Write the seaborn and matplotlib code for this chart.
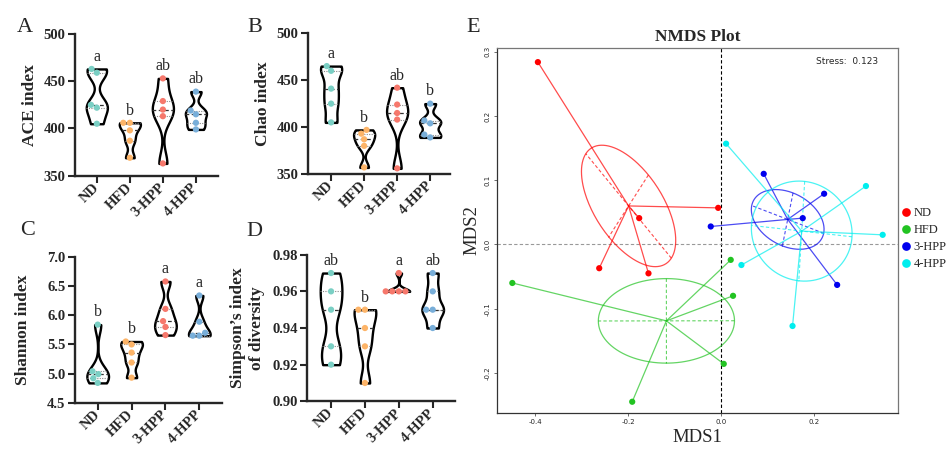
import numpy as np
import pandas as pd
import matplotlib
matplotlib.use("Agg")
import matplotlib.pyplot as plt
from matplotlib.ticker import FormatStrFormatter
import seaborn as sns

# groups and colours
groups = ["ND", "HFD", "3-HPP", "4-HPP"]
violin_colors = ["#7acfc4", "#fdb468", "#f6786c", "#78aed9"]
nmds_colors = ["#ff0000", "#22c322", "#0000ee", "#00eeee"]

# alpha diversity values (5 mice per group)
ace = [[463, 459, 425, 422, 405],
       [406, 406, 398, 387, 369],
       [453, 429, 420, 413, 363],
       [439, 419, 415, 406, 399]]
chao = [[465, 460, 441, 425, 405],
        [397, 393, 387, 380, 357],
        [442, 424, 415, 408, 356],
        [425, 407, 404, 392, 389]]
shannon = [[5.84, 5.04, 4.99, 4.92, 4.84],
           [5.55, 5.50, 5.36, 5.19, 4.93],
           [6.58, 6.11, 5.90, 5.80, 5.66],
           [6.34, 5.89, 5.70, 5.65, 5.65]]
simpson = [[0.970, 0.960, 0.950, 0.930, 0.920],
           [0.950, 0.950, 0.940, 0.930, 0.910],
           [0.970, 0.960, 0.960, 0.960, 0.960],
           [0.970, 0.960, 0.950, 0.950, 0.940]]

ace_letters = ["a", "b", "ab", "ab"]
chao_letters = ["a", "b", "ab", "b"]
shannon_letters = ["b", "b", "a", "a"]
simpson_letters = ["ab", "b", "a", "ab"]

# NMDS coordinates
mds1_nd = [-0.394, -0.176, -0.006, -0.262, -0.156]
mds2_nd = [0.284, 0.041, 0.057, -0.037, -0.045]
mds1_hfd = [-0.449, -0.191, 0.021, 0.026, 0.006]
mds2_hfd = [-0.060, -0.245, -0.024, -0.080, -0.186]
mds1_3hpp = [0.092, 0.222, 0.176, -0.022, 0.250]
mds2_3hpp = [0.110, 0.079, 0.041, 0.028, -0.063]
mds1_4hpp = [0.011, 0.312, 0.348, 0.044, 0.154]
mds2_4hpp = [0.157, 0.091, 0.015, -0.032, -0.127]
stress = 0.123

sns.set_style("ticks")
plt.rcParams["font.family"] = ["Liberation Serif", "DejaVu Serif"]

fig = plt.figure(figsize=(9.53, 4.49), dpi=100)


def violin_panel(rect, values, letters, ylabel, ylim, yticks, xlim, fmt, label_x):
    ax = fig.add_axes(rect)
    df = pd.DataFrame({"group": np.repeat(groups, 5),
                       "value": np.concatenate(values)})
    sns.violinplot(data=df, x="group", y="value", order=groups, cut=0,
                   bw_adjust=0.5, inner="quart", color="white", linecolor="black",
                   linewidth=1.7, width=0.64, density_norm="width", ax=ax)
    # median dashed, quartiles dotted
    for k, ln in enumerate(ax.lines):
        if k % 3 == 1:
            ln.set_color("#333333")
            ln.set_linestyle((0, (3, 2)))
            ln.set_linewidth(0.9)
        else:
            ln.set_color("#888888")
            ln.set_linestyle((0, (1, 1.2)))
            ln.set_linewidth(0.8)
    sns.swarmplot(data=df, x="group", y="value", order=groups, hue="group",
                  hue_order=groups, palette=violin_colors, size=4.5,
                  legend=False, ax=ax, zorder=3)
    for i, let in enumerate(letters):
        ax.annotate(let, (i, max(values[i])), xytext=(0, 3),
                    textcoords="offset points", ha="center", va="bottom",
                    fontsize=11.5)
    ax.set_ylim(*ylim)
    ax.set_yticks(yticks)
    ax.yaxis.set_major_formatter(FormatStrFormatter(fmt))
    ax.set_xlim(*xlim)
    ax.set_xlabel("")
    ax.set_ylabel(ylabel, fontsize=12.5, fontweight="bold")
    ax.yaxis.set_label_coords(label_x, 0.5)
    sns.despine(ax=ax)
    for s in ["left", "bottom"]:
        ax.spines[s].set_linewidth(1.7)
    ax.tick_params(width=1.5, length=5, pad=2, labelsize=10.5)
    for t in ax.get_yticklabels():
        t.set_fontweight("bold")
    plt.setp(ax.get_xticklabels(), rotation=45, ha="right", va="center",
             rotation_mode="anchor", fontweight="bold")
    return ax


violin_panel([0.0787, 0.6087, 0.1501, 0.3156], ace, ace_letters, "ACE index",
             (350, 500), [350, 400, 450, 500], (-0.66, 3.67), "%d", -0.26)
violin_panel([0.3235, 0.6125, 0.1487, 0.3134], chao, chao_letters, "Chao index",
             (350, 500), [350, 400, 450, 500], (-0.69, 3.6), "%d", -0.26)
violin_panel([0.0787, 0.1031, 0.1539, 0.3245], shannon, shannon_letters,
             "Shannon index", (4.5, 7.0), np.arange(4.5, 7.01, 0.5),
             (-0.67, 3.66), "%.1f", -0.30)
violin_panel([0.3225, 0.1062, 0.1550, 0.3265], simpson, simpson_letters,
             "Simpson’s index\nof diversity", (0.90, 0.98),
             np.arange(0.90, 0.981, 0.02), (-0.70, 3.66), "%.2f", -0.29)

# NMDS panel
ax = fig.add_axes([0.5215, 0.0802, 0.4208, 0.8129])
nmds = pd.DataFrame({
    "MDS1": mds1_nd + mds1_hfd + mds1_3hpp + mds1_4hpp,
    "MDS2": mds2_nd + mds2_hfd + mds2_3hpp + mds2_4hpp,
    "group": np.repeat(groups, 5),
})
ax.axvline(0, color="black", ls=(0, (3, 2)), lw=0.8, zorder=1)
ax.axhline(0, color="#999999", ls=(0, (3, 2)), lw=0.8, zorder=1)
ellipse_scale = 0.71
t = np.linspace(0, 2 * np.pi, 200)
for g, c in zip(groups, nmds_colors):
    pts = nmds.loc[nmds.group == g, ["MDS1", "MDS2"]].to_numpy()
    cen = pts.mean(axis=0)
    for p in pts:
        ax.plot([cen[0], p[0]], [cen[1], p[1]], color=c, lw=0.9, alpha=0.7)
    vals, vecs = np.linalg.eigh(np.cov(pts.T))
    radii = ellipse_scale * np.sqrt(vals)
    ell = vecs @ np.vstack([np.cos(t) * radii[0], np.sin(t) * radii[1]]) + cen[:, None]
    ax.plot(ell[0], ell[1], color=c, lw=0.9, alpha=0.7)
    for k in range(2):
        d = vecs[:, k] * radii[k]
        ax.plot([cen[0] - d[0], cen[0] + d[0]], [cen[1] - d[1], cen[1] + d[1]],
                color=c, lw=0.8, alpha=0.7, ls=(0, (3, 2)))
sns.scatterplot(data=nmds, x="MDS1", y="MDS2", hue="group", hue_order=groups,
                palette=nmds_colors, s=20, edgecolor="none", ax=ax, zorder=4)
ax.set_xlim(-0.482, 0.381)
ax.set_ylim(-0.2625, 0.306)
ax.set_xticks([-0.4, -0.2, 0.0, 0.2])
ax.set_yticks([-0.2, -0.1, 0.0, 0.1, 0.2, 0.3])
ax.xaxis.set_major_formatter(FormatStrFormatter("%.1f"))
ax.yaxis.set_major_formatter(FormatStrFormatter("%.1f"))
ax.tick_params(length=2.5, width=0.6, color="#555555", labelsize=5, pad=2)
for tl in ax.get_xticklabels() + ax.get_yticklabels():
    tl.set_family("DejaVu Sans")
plt.setp(ax.get_yticklabels(), rotation=90, va="center")
for s in ["left", "bottom"]:
    ax.spines[s].set_color("#333333")
    ax.spines[s].set_linewidth(0.9)
for s in ["top", "right"]:
    ax.spines[s].set_color("#777777")
    ax.spines[s].set_linewidth(0.9)
ax.set_xlabel("MDS1", fontsize=13.5)
ax.set_ylabel("MDS2", fontsize=13.5)
ax.yaxis.set_label_coords(-0.042, 0.5)
ax.xaxis.set_label_coords(0.5, -0.045)
ax.set_title("NMDS Plot", fontsize=12.5, fontweight="bold", pad=5)
ax.text(0.95, 0.957, f"Stress:  {stress}", transform=ax.transAxes, ha="right",
        va="baseline", fontsize=6.5, family="DejaVu Sans")
ax.legend(loc="center left", bbox_to_anchor=(1.0, 0.478), frameon=False,
          borderaxespad=0, borderpad=0.2, handlelength=0.9, handletextpad=0.15,
          labelspacing=0.4, markerscale=1.4, fontsize=9, title=None)

# panel letters
for lab, x, y in [("A", 17, 32), ("B", 247, 32), ("C", 20, 235),
                  ("D", 246, 236), ("E", 466, 32)]:
    fig.text(x / 953, 1 - y / 449, lab, fontsize=16, ha="left", va="baseline")

fig.savefig("out.png", dpi=100)
